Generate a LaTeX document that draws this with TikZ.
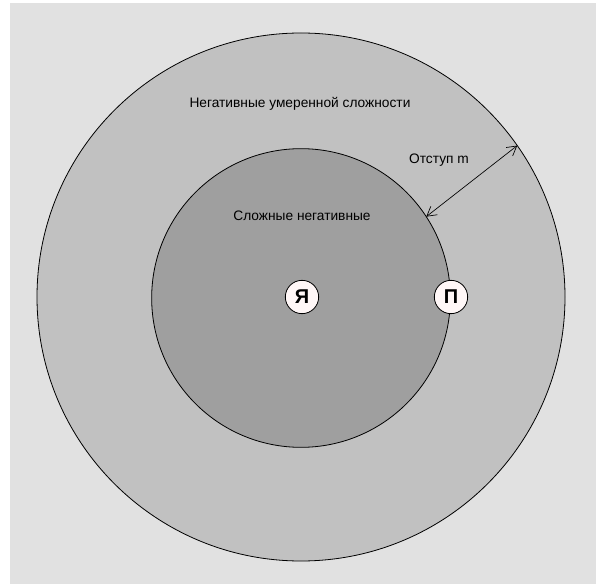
\documentclass[tikz,border=0pt]{standalone}
\usepackage{fontspec}
\setmainfont{Liberation Sans}
\usetikzlibrary{arrows.meta, positioning}

\definecolor{bggray}{HTML}{E1E1E1}
\definecolor{ringgray}{HTML}{C1C1C1}
\definecolor{coregray}{HTML}{9F9F9F}
\definecolor{dotfill}{HTML}{FFF7F7}

\begin{document}
\begin{tikzpicture}[
  x=0.75pt, y=-0.75pt,
  every node/.style={font=\fontsize{10.3}{12}\selectfont},
  zone/.style={draw, circle, inner sep=0pt, outer sep=0pt, line width=0.6pt},
  person/.style={draw, circle, fill=dotfill, minimum size=25pt, inner sep=0pt, line width=0.6pt, font=\fontsize{15}{17}\selectfont\bfseries},
  arrow/.style={{Straight Barb[length=7pt,width=8pt]}-{Straight Barb[length=7pt,width=8pt]}, line width=0.5pt}
]
\useasboundingbox (0,0) rectangle (600,584);

% Background
\fill[bggray] (10,3) rectangle (596,584);

% Zones
\node[zone, fill=ringgray, minimum size=396pt] (outer) at (301,297) {};
\node[zone, fill=coregray, minimum size=224pt] (inner) at (301,298) {};

% Labels
\node (outerlabel) at (300,104) {Негативные умеренной сложности};
\node (innerlabel) at (302,216) {Сложные негативные};

% People
\node[person] (me) at (302,297) {Я};
\node[person] (partner) at (451,297) {П};

% Margin
\draw[arrow] (inner.33) -- (outer.35.5);
\node (gaplabel) at (439,160) {Отступ m};

\end{tikzpicture}
\end{document}
